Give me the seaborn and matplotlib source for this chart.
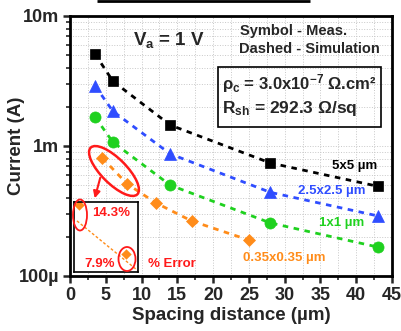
import matplotlib
matplotlib.use("Agg")
import matplotlib.pyplot as plt
import seaborn as sns
import numpy as np
from matplotlib.patches import Ellipse, Rectangle, FancyArrowPatch
from matplotlib.ticker import FixedLocator, NullFormatter, LogLocator

# ---------------- data ----------------
spacing_big = [3.5, 6, 14, 28, 43]
cur_5x5 = [5.1e-3, 3.15e-3, 1.45e-3, 7.4e-4, 4.9e-4]
cur_2p5 = [2.9e-3, 1.85e-3, 8.7e-4, 4.4e-4, 2.9e-4]
cur_1x1 = [1.67e-3, 1.07e-3, 5.0e-4, 2.56e-4, 1.67e-4]
spacing_small = [4.5, 8, 12, 17, 25]
cur_035 = [8.1e-4, 5.1e-4, 3.65e-4, 2.65e-4, 1.89e-4]
inset_meas_x = [4.5, 8]
inset_meas_y = [8.1e-4, 5.1e-4]
inset_sim_x = [4.35, 8.9]
inset_sim_y = [6.97e-4, 4.35e-4]

series_labels = ["5x5 µm", "2.5x2.5 µm", "1x1 µm", "0.35x0.35 µm"]
xticks = [0, 5, 10, 15, 20, 25, 30, 35, 40, 45]
yticks = [1e-4, 1e-3, 1e-2]
ytick_labels = ["100µ", "1m", "10m"]
err_labels = ["14.3%", "7.9%", "% Error"]

BLACK = "#000000"
BLUE = "#2f4dff"
GREEN = "#1fd11f"
ORANGE = "#ff8c1a"
RED = "#ff1a1a"

sns.set_style("ticks")
plt.rcParams["font.family"] = ["Liberation Sans", "DejaVu Sans"]
plt.rcParams["font.weight"] = "bold"
plt.rcParams["mathtext.fontset"] = "custom"
plt.rcParams["mathtext.rm"] = "Liberation Sans:bold"
plt.rcParams["mathtext.bf"] = "Liberation Sans:bold"
plt.rcParams["mathtext.it"] = "Liberation Sans:bold"
plt.rcParams["mathtext.default"] = "bf"

fig = plt.figure(figsize=(4.01, 3.31), dpi=100)
W, H = 401, 331
ax = fig.add_axes([70 / W, 1 - 276 / H, 322 / W, 260 / H])

styles = [
    (spacing_big, cur_5x5, BLACK, "s", 7),
    (spacing_big, cur_2p5, BLUE, "^", 8),
    (spacing_big, cur_1x1, GREEN, "o", 8),
    (spacing_small, cur_035, ORANGE, "D", 6.5),
]
for xs, ys, c, m, ms in styles:
    sns.lineplot(x=xs, y=ys, ax=ax, color=c, lw=2.0, linestyle="--",
                 marker=m, markersize=ms, markeredgecolor=c,
                 markerfacecolor=c, markeredgewidth=0.5)
for ln in ax.get_lines():
    ln.set_dashes([2, 2])

ax.set_yscale("log")
ax.set_xlim(0, 45)
ax.set_ylim(1e-4, 1e-2)
ax.set_xticks(xticks)
ax.set_xticklabels([str(t) for t in xticks])
ax.xaxis.set_minor_locator(FixedLocator(np.arange(0, 45.1, 2.5)))
ax.set_yticks(yticks)
ax.set_yticklabels(ytick_labels)
ax.yaxis.set_minor_locator(LogLocator(base=10, subs=np.arange(2, 10)))
ax.yaxis.set_minor_formatter(NullFormatter())
ax.tick_params(axis="both", which="major", length=5, width=1.8,
               labelsize=13, direction="out", pad=3)
ax.tick_params(axis="both", which="minor", length=3, width=1.2, direction="out")
for lab in ax.get_xticklabels() + ax.get_yticklabels():
    lab.set_fontweight("bold")
ax.grid(True, which="both", color="#c8c8c8", lw=0.7, ls=":")
for s in ax.spines.values():
    s.set_linewidth(2)
    s.set_color("black")
ax.set_xlabel("Spacing distance (µm)", fontsize=13.5, fontweight="bold", labelpad=2)
ax.set_ylabel("Current (A)", fontsize=13.5, fontweight="bold")
ax.yaxis.set_label_coords(-0.14, 0.5)

# ---------------- inset ----------------
iax = fig.add_axes([74 / W, 1 - 272 / H, 64 / W, 70 / H])
iax.set_yscale("log")
iax.set_xlim(4.128, 8.894)
iax.set_ylim(10 ** -3.3662, 10 ** -3.0792)
sns.lineplot(x=inset_sim_x, y=inset_sim_y, ax=iax, color=ORANGE, lw=1.0, linestyle="--")
for ln in iax.get_lines():
    ln.set_dashes([2, 1.5])
sns.scatterplot(x=inset_meas_x, y=inset_meas_y, ax=iax, color=ORANGE, marker="D",
                s=28, edgecolor=ORANGE, linewidth=0)
iax.set_xticks([])
iax.set_yticks([])
iax.minorticks_off()
iax.grid(False)
iax.set_facecolor("white")
for s in iax.spines.values():
    s.set_linewidth(1.2)
    s.set_color("black")

# ---------------- overlay annotations (pixel coords) ----------------
ov = fig.add_axes([0, 0, 1, 1])
ov.set_xlim(0, W)
ov.set_ylim(H, 0)
ov.axis("off")
ov.patch.set_alpha(0)

ov.plot([97, 310], [0.8, 0.8], color="black", lw=2, solid_capstyle="butt")

ov.text(133, 40, r"$V_a$ = 1 V", fontsize=13.5, fontweight="bold", va="center", ha="left")
ov.text(240, 31, "Symbol - Meas.", fontsize=10.5, fontweight="bold", va="center")
ov.text(239, 49, "Dashed - Simulation", fontsize=10.5, fontweight="bold", va="center")
ov.add_patch(Rectangle((218, 67), 163, 60, fill=False, ec="black", lw=1.2))
ov.text(222, 84, r"$ρ_c$ = 3.0x10$^{-7}$ Ω.cm²", fontsize=12, fontweight="bold", va="center")
ov.text(222, 108, r"$R_{sh}$ = 292.3 Ω/sq", fontsize=12.5, fontweight="bold", va="center")

ov.text(332, 166, series_labels[0], fontsize=9.5, fontweight="bold", color=BLACK, va="center")
ov.text(298, 191, series_labels[1], fontsize=9.5, fontweight="bold", color=BLUE, va="center")
ov.text(319, 223, series_labels[2], fontsize=9.5, fontweight="bold", color=GREEN, va="center")
ov.text(243, 258, series_labels[3], fontsize=9.5, fontweight="bold", color=ORANGE, va="center")

ov.text(92, 213, err_labels[0], fontsize=9.5, fontweight="bold", color=RED, va="center")
ov.text(84, 264, err_labels[1], fontsize=9.5, fontweight="bold", color=RED, va="center")
ov.text(148, 264, err_labels[2], fontsize=9.5, fontweight="bold", color=RED, va="center")

ov.add_patch(Ellipse((114, 171), 66, 25, angle=45, fill=False, ec=RED, lw=1.8))
ov.add_patch(Ellipse((80, 215), 14, 31, fill=False, ec=RED, lw=1.3))
ov.add_patch(Ellipse((127, 259), 17, 24, fill=False, ec=RED, lw=1.3))
ov.add_patch(FancyArrowPatch((101, 175), (94, 201), arrowstyle="-|>", mutation_scale=10,
                             color=RED, lw=1.5))

fig.savefig("out.png", dpi=100)
